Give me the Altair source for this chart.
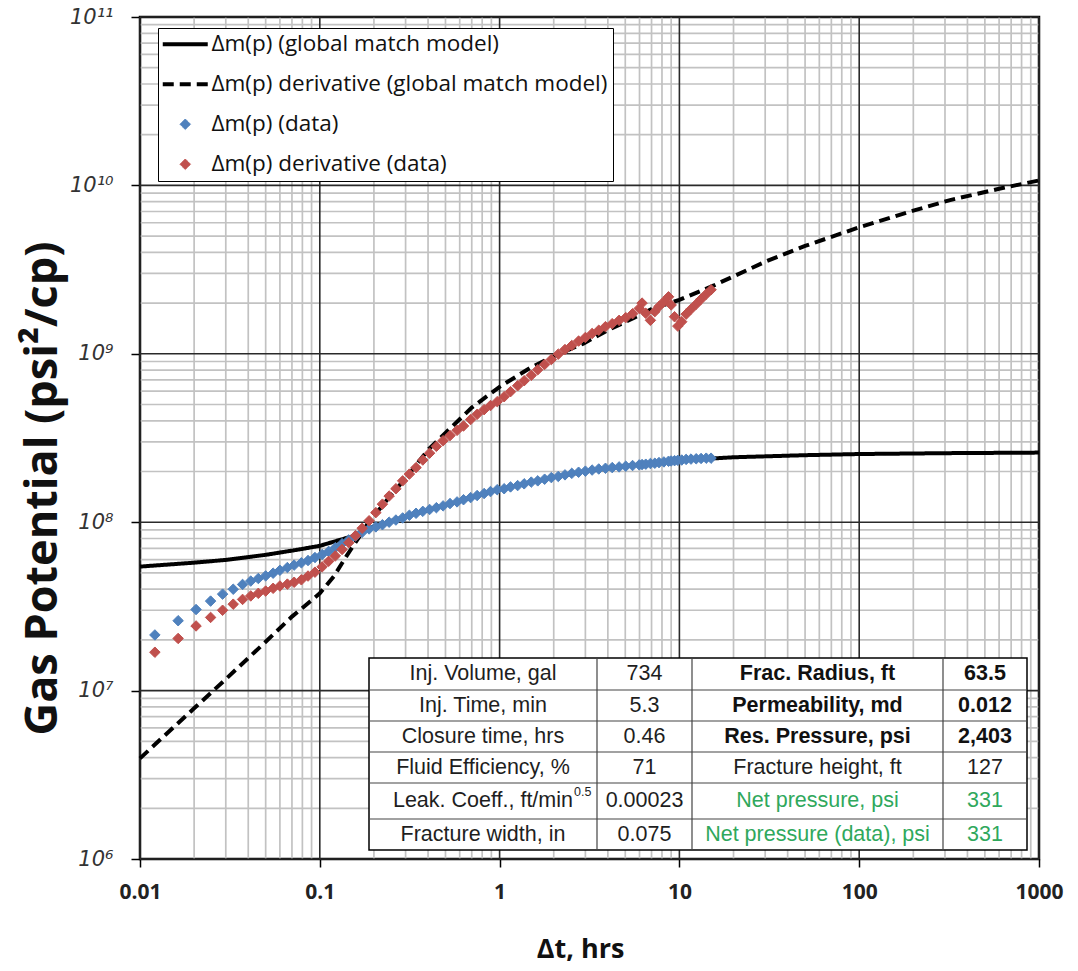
import altair as alt
import pandas as pd

SERIES = [
    "Δm(p) (global match model)",
    "Δm(p) derivative (global match model)",
    "Δm(p) (data)",
    "Δm(p) derivative (data)",
]

# ---- model curves ----
t_model_dmp = [0.01, 0.02, 0.03, 0.05, 0.075, 0.1, 0.15, 0.2, 0.3, 0.5, 0.7, 1, 2, 3, 5,
               10, 20, 50, 100, 300, 1000]
dmp_model = [5.45e7, 5.75e7, 5.97e7, 6.40e7, 6.86e7, 7.24e7, 8.22e7, 9.44e7, 1.08e8, 1.26e8,
             1.40e8, 1.57e8, 1.85e8, 2.00e8, 2.15e8, 2.33e8, 2.43e8, 2.50e8, 2.54e8, 2.57e8, 2.59e8]

t_model_der = [0.01, 0.02, 0.03, 0.05, 0.07, 0.088, 0.1, 0.12, 0.141, 0.165, 0.19, 0.22, 0.25,
               0.3, 0.4, 0.5, 0.7, 1.0, 1.5, 2.07, 2.92, 4.0, 5.5, 7.0, 10, 15.7, 30, 50, 100,
               200, 320, 600, 1000]
der_model = [3.96e6, 7.85e6, 1.17e7, 1.95e7, 2.75e7, 3.37e7, 3.78e7, 4.79e7, 6.31e7, 8.13e7,
             1.03e8, 1.23e8, 1.46e8, 1.82e8, 2.69e8, 3.39e8, 4.79e8, 6.37e8, 8.32e8, 9.84e8,
             1.15e9, 1.38e9, 1.62e9, 1.84e9, 2.09e9, 2.56e9, 3.52e9, 4.37e9, 5.64e9, 7.08e9,
             8.18e9, 9.55e9, 1.07e10]

# ---- measured data ----
t_data = [0.0121, 0.0163, 0.0205, 0.0247, 0.0288, 0.033, 0.0372, 0.0413, 0.0455, 0.05, 0.055,
          0.06, 0.066, 0.072, 0.079, 0.086, 0.094, 0.103, 0.112, 0.122, 0.133, 0.145, 0.158,
          0.172, 0.188, 0.205, 0.223, 0.243, 0.265, 0.289, 0.315, 0.343, 0.374, 0.408, 0.445,
          0.485, 0.53, 0.58, 0.63, 0.69, 0.75, 0.82, 0.89, 0.97, 1.06, 1.15, 1.26, 1.37, 1.5,
          1.63, 1.78, 1.94, 2.12, 2.31, 2.52, 2.75, 3.0, 3.27, 3.56, 3.88, 4.23, 4.62, 5.03,
          5.49, 5.98, 6.2, 6.5, 6.9, 7.3, 7.7, 8.2, 8.7, 9.0, 9.4, 9.8, 10.3, 10.9, 11.6, 12.4,
          13.2, 14.1, 15.0]
dmp_data = [2.14e7, 2.60e7, 3.03e7, 3.40e7, 3.74e7, 4.00e7, 4.27e7, 4.47e7, 4.63e7, 4.80e7,
            4.98e7, 5.18e7, 5.38e7, 5.56e7, 5.74e7, 5.92e7, 6.17e7, 6.43e7, 6.71e7, 7.06e7,
            7.45e7, 7.85e7, 8.28e7, 8.71e7, 9.12e7, 9.38e7, 9.66e7, 1.00e8, 1.03e8, 1.06e8,
            1.10e8, 1.13e8, 1.16e8, 1.19e8, 1.22e8, 1.25e8, 1.29e8, 1.32e8, 1.36e8, 1.40e8,
            1.44e8, 1.48e8, 1.52e8, 1.56e8, 1.58e8, 1.62e8, 1.65e8, 1.69e8, 1.73e8, 1.76e8,
            1.80e8, 1.84e8, 1.87e8, 1.91e8, 1.95e8, 1.98e8, 2.01e8, 2.04e8, 2.07e8, 2.09e8,
            2.11e8, 2.13e8, 2.15e8, 2.17e8, 2.19e8, 2.20e8, 2.21e8, 2.23e8, 2.24e8, 2.26e8,
            2.28e8, 2.30e8, 2.31e8, 2.32e8, 2.33e8, 2.34e8, 2.36e8, 2.37e8, 2.38e8, 2.39e8,
            2.40e8, 2.40e8]
der_data = [1.69e7, 2.04e7, 2.42e7, 2.72e7, 3.00e7, 3.26e7, 3.48e7, 3.65e7, 3.78e7, 3.90e7,
            4.05e7, 4.18e7, 4.29e7, 4.40e7, 4.55e7, 4.79e7, 5.05e7, 5.43e7, 5.86e7, 6.31e7,
            6.89e7, 7.55e7, 8.32e7, 9.20e7, 1.02e8, 1.14e8, 1.28e8, 1.43e8, 1.58e8, 1.76e8,
            1.93e8, 2.11e8, 2.34e8, 2.57e8, 2.82e8, 3.05e8, 3.27e8, 3.51e8, 3.73e8, 4.07e8,
            4.37e8, 4.66e8, 4.93e8, 5.20e8, 5.56e8, 5.96e8, 6.46e8, 6.92e8, 7.45e8, 8.04e8,
            8.65e8, 9.25e8, 9.95e8, 1.06e9, 1.12e9, 1.19e9, 1.25e9, 1.32e9, 1.38e9, 1.45e9,
            1.51e9, 1.58e9, 1.64e9, 1.73e9, 1.86e9, 2.00e9, 1.74e9, 1.58e9, 1.78e9, 1.91e9,
            2.04e9, 2.18e9, 1.95e9, 1.66e9, 1.46e9, 1.55e9, 1.72e9, 1.84e9, 1.97e9, 2.11e9,
            2.26e9, 2.40e9]

# ---- axes ----
x_major = [0.01, 0.1, 1, 10, 100, 1000]
y_major = [1e6, 1e7, 1e8, 1e9, 1e10, 1e11]
y_major_labels = ["10⁶", "10⁷", "10⁸", "10⁹", "10¹⁰", "10¹¹"]
minor_mult = [2, 3, 4, 5, 6, 7, 8, 9]

# ---- table ----
table_col1 = ["Inj. Volume, gal", "Inj. Time, min", "Closure time, hrs", "Fluid Efficiency, %",
              "Leak. Coeff., ft/min", "Fracture width, in"]
table_col2 = ["734", "5.3", "0.46", "71", "0.00023", "0.075"]
table_col3 = ["Frac. Radius, ft", "Permeability, md", "Res. Pressure, psi", "Fracture height, ft",
              "Net pressure, psi", "Net pressure (data), psi"]
table_col4 = ["63.5", "0.012", "2,403", "127", "331", "331"]
table_style34 = ["bold", "bold", "bold", "normal", "green", "green"]
leak_sup = "0.5"

# ---------------------------------------------------------------
model_df = pd.concat([
    pd.DataFrame({"t": t_model_dmp, "v": dmp_model, "series": SERIES[0]}),
    pd.DataFrame({"t": t_model_der, "v": der_model, "series": SERIES[1]}),
])
data_df = pd.concat([
    pd.DataFrame({"t": t_data, "v": dmp_data, "series": SERIES[2]}),
    pd.DataFrame({"t": t_data, "v": der_data, "series": SERIES[3]}),
])

W, H = 899, 842
xs = alt.Scale(type="log", domain=[0.01, 1000], nice=False)
ys = alt.Scale(type="log", domain=[1e6, 1e11], nice=False)

label_expr = " : ".join(f"datum.value == {int(v)} ? '{l}'" for v, l in zip(y_major, y_major_labels)) + " : ''"

x_axis = alt.Axis(values=x_major, format="~g", grid=False, domain=False, ticks=True,
                  tickSize=8, tickColor="black", tickWidth=1.5, labelFlush=False,
                  labelOverlap=False, labelFont="Open Sans", labelFontWeight="bold",
                  labelFontSize=21, labelColor="#222", labelPadding=14,
                  title="Δt, hrs", titleFont="Open Sans", titleFontSize=27,
                  titleFontWeight="bold", titleColor="#111", titleX=440, titleY=90,
                  titleBaseline="middle", titleAlign="center")
y_axis = alt.Axis(values=y_major, labelExpr=label_expr, grid=False, domain=False, ticks=True,
                  tickSize=9, tickColor="black", tickWidth=1.5, labelFlush=False,
                  labelOverlap=False, labelFont="DejaVu Sans", labelFontStyle="italic",
                  labelFontSize=21, labelColor="#333", labelPadding=18,
                  title="Gas Potential (psi²/cp)", titleFont="Open Sans", titleFontSize=45,
                  titleFontWeight="bold", titleColor="#111", titleAngle=270, titleX=-98,
                  titleY=471, titleAlign="center", titleBaseline="middle")

X = lambda f: alt.X(f, scale=xs, axis=x_axis)
Y = lambda f: alt.Y(f, scale=ys, axis=y_axis)

xminor_df = pd.DataFrame({"t": [m * 10.0 ** k for k in range(-2, 3) for m in minor_mult]})
yminor_df = pd.DataFrame({"v": [m * 10.0 ** k for k in range(6, 11) for m in minor_mult]})
xmajor_df = pd.DataFrame({"t": x_major})
ymajor_df = pd.DataFrame({"v": y_major})

g1 = alt.Chart(yminor_df).mark_rule(color="#c2c2c2", strokeWidth=1.7).encode(y=Y("v:Q"))
g2 = alt.Chart(xminor_df).mark_rule(color="#c2c2c2", strokeWidth=1.7).encode(x=X("t:Q"))
g3 = alt.Chart(ymajor_df).mark_rule(color="#2a2a2a", strokeWidth=1.6).encode(y=Y("v:Q"))
g4 = alt.Chart(xmajor_df).mark_rule(color="#2a2a2a", strokeWidth=1.6).encode(x=X("t:Q"))

legend = alt.Legend(title=None, orient="none", legendX=18, legendY=11, padding=5,
                    fillColor="white", strokeColor="black", labelFont="Open Sans",
                    labelFontSize=22.5, labelColor="#111", symbolOffset=11,
                    labelOffset=15, rowPadding=17, labelLimit=0)
color_range = ["#000000", "#000000", "#4F81BD", "#C0504D"]
LINE_SYM = "M-2.5,0H2.5"
stroke_scale = alt.Scale(domain=SERIES, range=color_range)
fill_scale = alt.Scale(domain=SERIES, range=color_range)
dash_scale = alt.Scale(domain=SERIES, range=[[1, 0], [11, 6], [1, 0], [1, 0]])
shape_scale = alt.Scale(domain=SERIES, range=[LINE_SYM, LINE_SYM, "diamond", "diamond"])
size_scale = alt.Scale(type="ordinal", domain=SERIES, range=[324, 324, 110, 110])
sw_scale = alt.Scale(type="ordinal", domain=SERIES, range=[4, 4, 1, 1])

lines = alt.Chart(model_df).mark_line(strokeCap="butt").encode(
    x=X("t:Q"), y=Y("v:Q"),
    stroke=alt.Stroke("series:N", scale=stroke_scale, legend=legend),
    strokeDash=alt.StrokeDash("series:N", scale=dash_scale, legend=legend),
    strokeWidth=alt.StrokeWidth("series:N", scale=sw_scale, legend=legend),
)
points = alt.Chart(data_df).mark_point(filled=True, opacity=1).encode(
    x=X("t:Q"), y=Y("v:Q"),
    fill=alt.Fill("series:N", scale=fill_scale, legend=legend),
    stroke=alt.Stroke("series:N", scale=stroke_scale, legend=legend),
    shape=alt.Shape("series:N", scale=shape_scale, legend=legend),
    size=alt.Size("series:N", scale=size_scale, legend=legend),
    strokeWidth=alt.StrokeWidth("series:N", scale=sw_scale, legend=legend),
)

# ---- table (pixel layout inside the plot area) ----
col_edges = [229, 457, 552, 803, 887]
row_edges = [641, 673, 704, 735, 766, 802, 833]
col_centers = [(a + b) / 2 for a, b in zip(col_edges[:-1], col_edges[1:])]
row_centers = [(a + b) / 2 for a, b in zip(row_edges[:-1], row_edges[1:])]

cells = []
for i in range(6):
    if i != 4:
        cells.append({"x": col_centers[0], "y": row_centers[i], "text": table_col1[i], "style": "normal"})
    cells.append({"x": col_centers[1], "y": row_centers[i], "text": table_col2[i], "style": "normal"})
    cells.append({"x": col_centers[2], "y": row_centers[i], "text": table_col3[i], "style": table_style34[i]})
    cells.append({"x": col_centers[3], "y": row_centers[i], "text": table_col4[i], "style": table_style34[i]})
cells_df = pd.DataFrame(cells)

tbl_bg = alt.Chart(pd.DataFrame({"x": [col_edges[0]], "x2": [col_edges[-1]],
                                 "y": [row_edges[0]], "y2": [row_edges[-1]]})).mark_rect(
    fill="white", stroke="black", strokeWidth=1.5).encode(
    x=alt.X("x:Q", scale=None), x2="x2", y=alt.Y("y:Q", scale=None), y2="y2")
hl = pd.DataFrame({"y": row_edges[1:-1], "x": col_edges[0], "x2": col_edges[-1]})
vl = pd.DataFrame({"x": col_edges[1:-1], "y": row_edges[0], "y2": row_edges[-1]})
tbl_h = alt.Chart(hl).mark_rule(color="#444", strokeWidth=1.2).encode(
    x=alt.X("x:Q", scale=None), x2="x2", y=alt.Y("y:Q", scale=None))
tbl_v = alt.Chart(vl).mark_rule(color="#444", strokeWidth=1.2).encode(
    x=alt.X("x:Q", scale=None), y=alt.Y("y:Q", scale=None), y2="y2")

FS = 21.5

def text_layer(style, weight, color):
    return alt.Chart(cells_df[cells_df["style"] == style]).mark_text(
        font="Liberation Sans", fontSize=FS, fontWeight=weight, color=color,
        align="center", baseline="middle").encode(
        x=alt.X("x:Q", scale=None), y=alt.Y("y:Q", scale=None), text="text:N")

t_norm = text_layer("normal", "normal", "#1e1e1e")
t_bold = text_layer("bold", "bold", "#111")
t_green = text_layer("green", "normal", "#2fa85c")

leak_df = pd.DataFrame({"x": [433], "y": [row_centers[4]], "text": [table_col1[4]]})
t_leak = alt.Chart(leak_df).mark_text(font="Liberation Sans", fontSize=FS, color="#1e1e1e",
                                      align="right", baseline="middle").encode(
    x=alt.X("x:Q", scale=None), y=alt.Y("y:Q", scale=None), text="text:N")
sup_df = pd.DataFrame({"x": [434], "y": [row_centers[4] - 9], "text": [leak_sup]})
t_sup = alt.Chart(sup_df).mark_text(font="Liberation Sans", fontSize=12.5, color="#1e1e1e",
                                    align="left", baseline="middle").encode(
    x=alt.X("x:Q", scale=None), y=alt.Y("y:Q", scale=None), text="text:N")

chart = alt.layer(
    g1, g2, g3, g4, lines, points, tbl_bg, tbl_h, tbl_v, t_norm, t_bold, t_green, t_leak, t_sup
).properties(
    width=W, height=H,
    autosize=alt.AutoSizeParams(type="none"),
    padding={"left": 140, "top": 17, "right": 39, "bottom": 112},
    background="white",
).configure_view(stroke="black", strokeWidth=2.5)

chart.save("out.html", embed_options={"renderer": "svg", "actions": False})
